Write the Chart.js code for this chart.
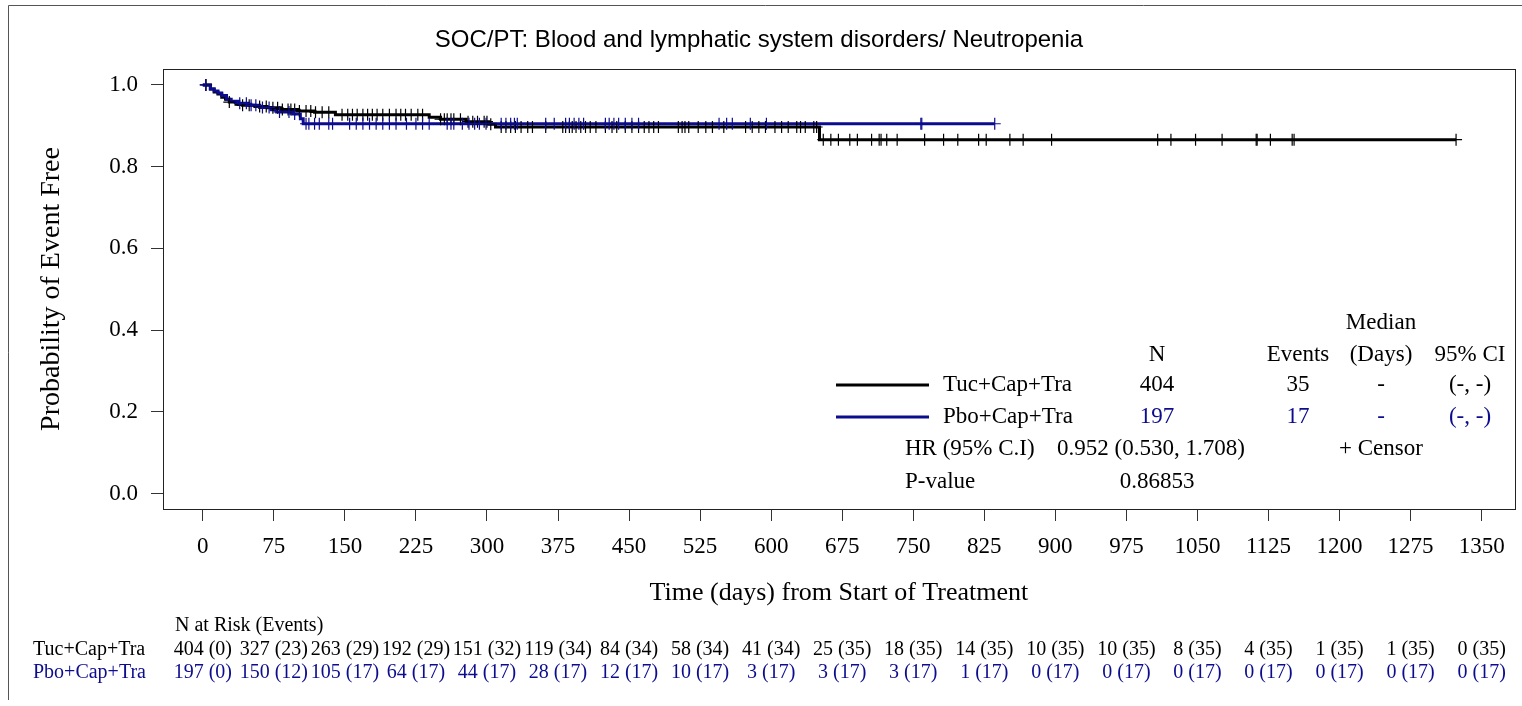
<!DOCTYPE html>
<html><head><meta charset="utf-8">
<script src="https://cdn.jsdelivr.net/npm/chart.js@4.4.0/dist/chart.umd.min.js"></script>
<style>html,body{margin:0;padding:0;background:#fff;}canvas{display:block;}</style>
</head><body>
<canvas id="c" width="1522" height="706"></canvas>
<script>
const chartTitle = "SOC/PT: Blood and lymphatic system disorders/ Neutropenia";
const xTitle = "Time (days) from Start of Treatment";
const yTitle = "Probability of Event Free";
const xTicks = [0,75,150,225,300,375,450,525,600,675,750,825,900,975,1050,1125,1200,1275,1350];
const yTicks = [0,0.2,0.4,0.6,0.8,1.0];
const groups = ["Tuc+Cap+Tra","Pbo+Cap+Tra"];
const groupN = ["404","197"];
const groupEvents = ["35","17"];
const groupMedian = ["-","-"];
const groupCI = ["(-, -)","(-, -)"];
const hrValue = "0.952 (0.530, 1.708)";
const pValue = "0.86853";

const tucDays = [0,8,12,16,20,24,28,35,42,55,68,82,100,118,140,239,251,278,302,309,651,1323];
const tucSurv = [1.0,0.990,0.983,0.978,0.970,0.965,0.958,0.953,0.950,0.947,0.944,0.940,0.936,0.933,0.927,0.921,0.916,0.910,0.904,0.897,0.866,0.866];
const pboDays = [0,8,12,16,20,25,30,38,48,60,72,78,95,103,106,836];
const pboSurv = [1.0,0.990,0.985,0.980,0.974,0.965,0.960,0.955,0.950,0.945,0.939,0.934,0.929,0.917,0.905,0.905];

const tucCensorDays = [3.5,28,42,49,60,67,74,79,84,90,93,97,102,109,114,119,126,133,147,153,158,163,169,174,179,184,190,197,204,209,
 214,220,227,232,251,255,258,262,265,272,280,285,290,297,300,304,315,320,325,330,336,343,348,362,380,383,387,390,394,399,404,409,415,425,432,437,446,453,460,466,471,476,481,502,506,509,513,523,531,538,550,573,580,587,594,604,611,618,627,636,645,631,648,
 655,663,671,683,691,706,714,716,722,733,762,782,797,819,827,852,866,896,1008,1022,1048,1076,1112,1113,1127,1150,1152,1323];
const pboCensorDays = [3,39,46,51,56,63,70,81,91,97,109,112,118,123,133,137,155,162,169,176,183,190,197,204,
 215,225,232,239,258,262,265,274,281,287,292,299,315,320,325,329,332,362,371,383,387,392,397,402,425,429,434,439,446,453,460,545,553,559,578,595,758,759,836];

const riskTuc = ["404 (0)","327 (23)","263 (29)","192 (29)","151 (32)","119 (34)","84 (34)","58 (34)","41 (34)","25 (35)","18 (35)","14 (35)","10 (35)","10 (35)","8 (35)","4 (35)","1 (35)","1 (35)","0 (35)"];
const riskPbo = ["197 (0)","150 (12)","105 (17)","64 (17)","44 (17)","28 (17)","12 (17)","10 (17)","3 (17)","3 (17)","3 (17)","1 (17)","0 (17)","0 (17)","0 (17)","0 (17)","0 (17)","0 (17)","0 (17)"];

const BLACK = "#000000";
const BLUE = "#0c0c8f";
const SERIF = "'Liberation Serif','Times New Roman',serif";
const SANS = "'Liberation Sans',Arial,sans-serif";

function stepAt(days, surv, t){ let v = surv[0]; for (let i=0;i<days.length;i++){ if (days[i] <= t) v = surv[i]; } return v; }
const kmPoints = (d,s) => d.map((x,i)=>({x:x,y:s[i]}));
const censorPoints = (c,d,s) => c.map(x=>({x:x,y:stepAt(d,s,x)}));

function txt(ctx, s, x, y, font, color, align){
  ctx.save(); ctx.font = font; ctx.fillStyle = color; ctx.textAlign = align || 'left'; ctx.textBaseline = 'middle';
  ctx.fillText(s, x, y); ctx.restore();
}

const decor = {
  id: 'decor',
  beforeDraw(chart){
    const ctx = chart.ctx;
    ctx.save(); ctx.fillStyle = '#fff'; ctx.fillRect(0,0,chart.width,chart.height);
    ctx.strokeStyle = '#555'; ctx.lineWidth = 1;
    ctx.beginPath(); ctx.moveTo(8.5,700); ctx.lineTo(8.5,5.5); ctx.lineTo(1522,5.5); ctx.stroke();
    ctx.restore();
  },
  afterDraw(chart){
    const ctx = chart.ctx, a = chart.chartArea, xs = chart.scales.x;
    ctx.save(); ctx.strokeStyle = '#222'; ctx.lineWidth = 1;
    ctx.strokeRect(Math.round(a.left)+0.5, Math.round(a.top)+0.5, Math.round(a.right-a.left), Math.round(a.bottom-a.top));
    ctx.restore();
    // titles
    txt(ctx, chartTitle, 759, 40, "24px "+SANS, BLACK, 'center');
    txt(ctx, xTitle, (a.left+a.right)/2, 593, "26px "+SERIF, BLACK, 'center');
    ctx.save(); ctx.translate(52, (a.top+a.bottom)/2); ctx.rotate(-Math.PI/2);
    txt(ctx, yTitle, 0, 0, "28px "+SERIF, BLACK, 'center'); ctx.restore();
    // legend / stats table
    const F = "23px "+SERIF;
    const cN = 1157, cE = 1298, cD = 1381, cC = 1470;
    txt(ctx, "Median", cD, 323, F, BLACK, 'center');
    txt(ctx, "N", cN, 355, F, BLACK, 'center');
    txt(ctx, "Events", cE, 355, F, BLACK, 'center');
    txt(ctx, "(Days)", cD, 355, F, BLACK, 'center');
    txt(ctx, "95% CI", cC, 355, F, BLACK, 'center');
    const rows = [385, 417]; const cols = [BLACK, BLUE];
    for (let i=0;i<2;i++){
      const y = rows[i];
      ctx.save(); ctx.strokeStyle = cols[i]; ctx.lineWidth = 3; ctx.beginPath(); ctx.moveTo(836,y); ctx.lineTo(929,y); ctx.stroke(); ctx.restore();
      txt(ctx, groups[i], 943, y, F, BLACK, 'left');
      txt(ctx, groupN[i], cN, y, F, cols[i], 'center');
      txt(ctx, groupEvents[i], cE, y, F, cols[i], 'center');
      txt(ctx, groupMedian[i], cD, y, F, cols[i], 'center');
      txt(ctx, groupCI[i], cC, y, F, cols[i], 'center');
    }
    txt(ctx, "HR (95% C.I)", 905, 449, F, BLACK, 'left');
    txt(ctx, hrValue, 1057, 449, F, BLACK, 'left');
    txt(ctx, "+ Censor", cD, 449, F, BLACK, 'center');
    txt(ctx, "P-value", 905, 482, F, BLACK, 'left');
    txt(ctx, pValue, cN, 482, F, BLACK, 'center');
    // risk table
    const R = "20px "+SERIF;
    txt(ctx, "N at Risk (Events)", 175, 626, R, BLACK, 'left');
    txt(ctx, groups[0], 33, 650, R, BLACK, 'left');
    txt(ctx, groups[1], 33, 673, R, BLUE, 'left');
    xTicks.forEach((t,i)=>{
      const px = xs.getPixelForValue(t);
      txt(ctx, riskTuc[i], px, 650, R, BLACK, 'center');
      txt(ctx, riskPbo[i], px, 673, R, BLUE, 'center');
    });
  }
};

new Chart(document.getElementById('c'), {
  type: 'line',
  data: { datasets: [
    { label: 'Pbo censor', data: censorPoints(pboCensorDays, pboDays, pboSurv), showLine:false, pointStyle:'cross', pointRadius:6, pointBorderColor:BLUE, pointBorderWidth:1.2, borderColor:BLUE },
    { label: 'Tuc censor', data: censorPoints(tucCensorDays, tucDays, tucSurv), showLine:false, pointStyle:'cross', pointRadius:6, pointBorderColor:BLACK, pointBorderWidth:1.2, borderColor:BLACK },
    { label: groups[1], data: kmPoints(pboDays, pboSurv), stepped:true, borderColor:BLUE, borderWidth:3, pointRadius:0 },
    { label: groups[0], data: kmPoints(tucDays, tucSurv), stepped:true, borderColor:BLACK, borderWidth:3, pointRadius:0 }
  ]},
  options: {
    responsive:false, animation:false, devicePixelRatio:1,
    layout:{ padding:{ top:69, right:4, left:0, bottom:0 } },
    plugins:{ legend:{display:false}, title:{display:false}, tooltip:{enabled:false} },
    scales:{
      x:{ type:'linear', min:-42, max:1385,
        afterBuildTicks:(ax)=>{ ax.ticks = xTicks.map(v=>({value:v})); },
        afterFit:(ax)=>{ ax.height = 197; },
        grid:{ drawOnChartArea:false, drawTicks:true, tickLength:12, color:'#333' },
        border:{ display:false },
        ticks:{ font:{ family:SERIF, size:23 }, color:BLACK, padding:12, maxRotation:0, autoSkip:false, callback:(v)=>String(v) }
      },
      y:{ type:'linear', min:-0.038, max:1.039,
        afterBuildTicks:(ax)=>{ ax.ticks = yTicks.map(v=>({value:v})); },
        afterFit:(ax)=>{ ax.width = 163; },
        grid:{ drawOnChartArea:false, drawTicks:true, tickLength:12, color:'#333' },
        border:{ display:false },
        ticks:{ font:{ family:SERIF, size:23 }, color:BLACK, padding:13, callback:(v)=>Number(v).toFixed(1) }
      }
    }
  },
  plugins:[decor]
});
</script>
</body></html>
